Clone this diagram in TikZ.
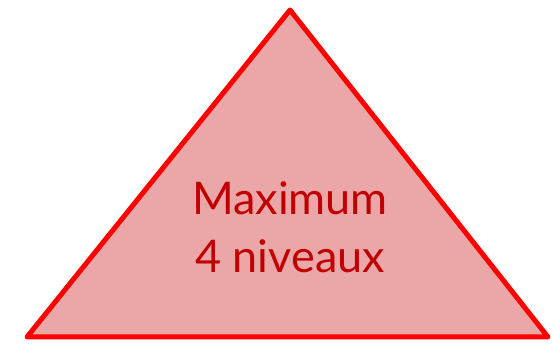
\documentclass[tikz,border=0pt]{standalone}
\usepackage{fontspec}
\setmainfont{Lato}
\definecolor{trifill}{HTML}{EBA6A8}
\definecolor{triline}{HTML}{FF0000}
\definecolor{tritext}{HTML}{C00000}
\begin{document}
\begin{tikzpicture}[x=1pt,y=-1pt,
  tri/.style={draw=triline,fill=trifill,line width=5pt,line join=round},
  label/.style={text=tritext,font=\fontsize{45}{58}\selectfont,align=center,inner sep=0pt}]
\useasboundingbox (0,0) rectangle (552,344);
\coordinate (top) at (290,10);
\coordinate (bl) at (27,337);
\coordinate (br) at (548,337);
\draw[tri] (top) -- (br) -- (bl) -- cycle;
\node[label,anchor=base] (t1) at (290,215) {Maximum};
\node[label,anchor=base] (t2) at (290,273) {4 niveaux};
\end{tikzpicture}
\end{document}
